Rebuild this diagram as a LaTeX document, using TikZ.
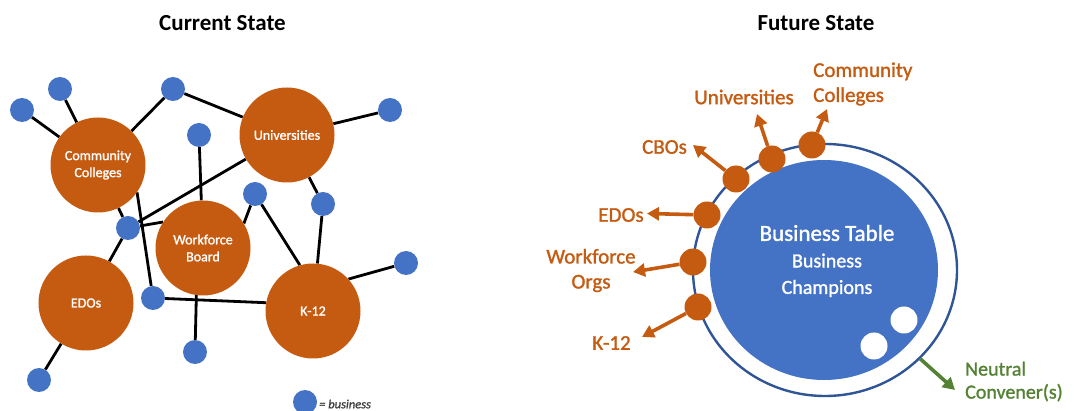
\documentclass[tikz,border=0pt]{standalone}
\usepackage{fontspec}
\setmainfont{Carlito}
\usetikzlibrary{arrows.meta,shapes.geometric,backgrounds}
\definecolor{orng}{HTML}{C55A11}
\definecolor{bblue}{HTML}{4472C4}
\definecolor{rblue}{HTML}{2F5597}
\definecolor{ggreen}{HTML}{548235}
% slightly heavier weight for the labels
\newcommand{\semibold}{\addfontfeatures{FakeBold=1.3}}
\begin{document}
\begin{tikzpicture}[x=1pt,y=-1pt,
  org/.style={circle, fill=orng, minimum size=95pt, inner sep=0pt, text=white,
    font=\fontsize{14}{17}\selectfont\semibold, align=center},
  biz/.style={circle, fill=bblue, minimum size=24pt, inner sep=0pt},
  link/.style={line width=2.8pt, black},
  title/.style={font=\bfseries\fontsize{23}{27}\selectfont},
  odot/.style={circle, fill=orng, minimum size=27pt, inner sep=0pt},
  outarrow/.style={line width=3.6pt, orng, -{Triangle[length=12pt,width=13pt]}},
  olabel/.style={text=orng, font=\fontsize{21}{25}\selectfont\semibold, inner sep=0pt},
]
\useasboundingbox (0,0) rectangle (1077,411);

% ---------- titles ----------
\node[title] (tcur) at (222.5,23) {Current State};
\node[title] (tfut) at (816,23) {Future State};

% ---------- current state: partner organisations ----------
\node[org] (cc)  at (98,165)  {Community\\Colleges};
\node[org] (un)  at (287,135) {Universities};
\node[org] (wb)  at (203,248) {Workforce\\Board};
\node[org] (ed)  at (86,303)  {EDOs};
\node[org] (k12) at (313,311) {K-12};

% ---------- current state: businesses ----------
\node[biz] (b1)  at (22,110)  {};
\node[biz] (b2)  at (60,89)   {};
\node[biz] (b3)  at (173,89)  {};
\node[biz] (b4)  at (390,110) {};
\node[biz] (b5)  at (199,135) {};
\node[biz] (b6)  at (255,194) {};
\node[biz] (b7)  at (323,204) {};
\node[biz] (b8)  at (128,228) {};
\node[biz] (b9)  at (406,263) {};
\node[biz] (b10) at (153,298) {};
\node[biz] (b11) at (195,352) {};
\node[biz] (b12) at (39,380)  {};

% ---------- current state: tangled links ----------
\begin{scope}[on background layer]
\draw[link] (b1) -- (cc);
\draw[link] (b2) -- (cc);
\draw[link] (cc) -- (b3);
\draw[link] (b3) -- (un);
\draw[link] (un) -- (b4);
\draw[link] (b5) -- (wb);
\draw[link] (un) -- (b8);
\draw[link] (b8) -- (wb.147);
\draw[link] (cc) -- (b8);
\draw[link] (b10) -- (cc.-35);
\draw[link] (b8) -- (ed);
\draw[link] (b10) -- (k12.170);
\draw[link] (b11) -- (wb.262);
\draw[link] (b6) -- (wb.31);
\draw[link] (b6) -- (k12.106);
\draw[link] (un) -- (b7);
\draw[link] (b7) -- (k12);
\draw[link] (k12.42) -- (b9);
\draw[link] (ed) -- (b12);
\end{scope}

% ---------- legend ----------
\node[biz] (leg) at (305,402) {};
\node[anchor=west, inner sep=0pt, text=black!75,
  font=\itshape\fontsize{12.5}{15}\selectfont\semibold] (legt) at (319,404) {= business};

% ---------- future state: business table ----------
\node[ellipse, draw=rblue, line width=2.4pt, minimum width=264pt,
  minimum height=252pt, inner sep=0pt] (ring) at (825,270) {};
\node[ellipse, fill=bblue, minimum width=228pt, minimum height=220pt,
  inner sep=0pt] (table) at (824,270) {};
\node[text=white, align=center, font=\fontsize{20}{26.5}\selectfont\semibold] (bt) at (827,261)
  {{\fontsize{23}{26.5}\selectfont Business Table}\\Business\\Champions};
\node[circle, fill=white, minimum width=27pt, inner sep=0pt] (w1) at (904,320) {};
\node[circle, fill=white, minimum width=27pt, inner sep=0pt] (w2) at (874,346) {};

% ---------- future state: partners around the table ----------
\node[odot] (dcc) at (812,145) {};
\node[odot] (dun) at (772,159) {};
\node[odot] (dcb) at (736,179) {};
\node[odot] (ded) at (707,215) {};
\node[odot] (dwf) at (693,262) {};
\node[odot] (dk)  at (698,307) {};

\coordinate (tcc) at (827,109);
\coordinate (tun) at (757,114);
\coordinate (tcb) at (693,145);
\coordinate (ted) at (647,213.5);
\coordinate (twf) at (633,272);
\coordinate (tk)  at (642,337);
\coordinate (tnc) at (955,390);

\draw[outarrow] (dcc) -- (tcc);
\draw[outarrow] (dun) -- (tun);
\draw[outarrow] (dcb) -- (tcb);
\draw[outarrow] (ded) -- (ted);
\draw[outarrow] (dwf) -- (twf);
\draw[outarrow] (dk)  -- (tk);
\draw[line width=3.6pt, ggreen, -{Triangle[length=12pt,width=13pt]}] (ring.-43) -- (tnc);

\node[olabel, anchor=west, align=left] (lcc) at (813,84) {Community\\Colleges};
\node[olabel] (lun) at (744,97)  {Universities};
\node[olabel] (lcb) at (664.5,147) {CBOs};
\node[olabel] (led) at (621,215) {EDOs};
\node[olabel, align=center] (lwf) at (591,270.5) {Workforce\\Orgs};
\node[olabel] (lk)  at (611.5,343) {K-12};
\node[olabel, text=ggreen, anchor=west, align=left,
  font=\fontsize{20}{23}\selectfont\semibold] (lnc) at (965,381.5) {Neutral\\Convener(s)};
\end{tikzpicture}
\end{document}
